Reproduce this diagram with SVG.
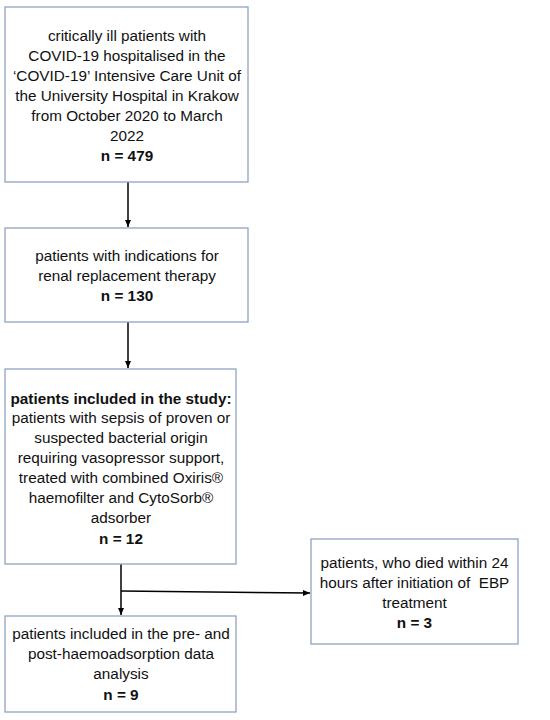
<svg xmlns="http://www.w3.org/2000/svg" width="550" height="720" viewBox="0 0 550 720">
<style>
.box{fill:#fff;stroke:#8fa3c2;stroke-width:1.3}
text{font-family:"Liberation Sans",Arial,sans-serif;font-size:15.3px;fill:#111;text-anchor:middle}
.b{font-weight:bold}
.c{stroke:#000;stroke-width:1.5;fill:none}
</style>
<defs>
<marker id="ah" markerWidth="8" markerHeight="8" refX="7" refY="4" orient="auto" markerUnits="userSpaceOnUse">
<path d="M0,1 L7,4 L0,7 z" fill="#000"/>
</marker>
</defs>
<rect width="550" height="720" fill="#fff"/>
<g id="connectors">
<line class="c" x1="128" y1="182" x2="128" y2="227" marker-end="url(#ah)"/>
<line class="c" x1="128" y1="322" x2="128" y2="368" marker-end="url(#ah)"/>
<line class="c" x1="121" y1="564" x2="121" y2="615" marker-end="url(#ah)"/>
<line class="c" x1="121" y1="591" x2="310" y2="593" marker-end="url(#ah)"/>
</g>
<g id="n1">
<rect class="box" x="5" y="7" width="243" height="175"/>
<text x="127" y="40.5">critically ill patients with</text>
<text x="127" y="60.5">COVID-19 hospitalised in the</text>
<text x="127" y="80.5">‘COVID-19’ Intensive Care Unit of</text>
<text x="127" y="100.5">the University Hospital in Krakow</text>
<text x="127" y="120.5">from October 2020 to March</text>
<text x="127" y="140.5">2022</text>
<text x="127" y="160.5" class="b">n = 479</text>
</g>
<g id="n2">
<rect class="box" x="5" y="228" width="243" height="94"/>
<text x="127" y="260.5">patients with indications for</text>
<text x="127" y="280.5">renal replacement therapy</text>
<text x="127" y="301" class="b">n = 130</text>
</g>
<g id="n3">
<rect class="box" x="5" y="369" width="231" height="195"/>
<text x="121" y="403.5" class="b">patients included in the study:</text>
<text x="121" y="422.5">patients with sepsis of proven or</text>
<text x="121" y="442.5">suspected bacterial origin</text>
<text x="121" y="463">requiring vasopressor support,</text>
<text x="121" y="483">treated with combined Oxiris®</text>
<text x="121" y="503">haemofilter and CytoSorb®</text>
<text x="121" y="523">adsorber</text>
<text x="121" y="543.5" class="b">n = 12</text>
</g>
<g id="n4">
<rect class="box" x="5" y="616" width="231" height="96"/>
<text x="121" y="638.5">patients included in the pre- and</text>
<text x="121" y="659">post-haemoadsorption data</text>
<text x="121" y="679">analysis</text>
<text x="121" y="699.5" class="b">n = 9</text>
</g>
<g id="n5">
<rect class="box" x="311" y="539" width="207" height="105"/>
<text x="414.5" y="567.5">patients, who died within 24</text>
<text x="414.5" y="587.5" xml:space="preserve">hours after initiation of  EBP</text>
<text x="414.5" y="607.5">treatment</text>
<text x="414.5" y="627.5" class="b">n = 3</text>
</g>
</svg>
